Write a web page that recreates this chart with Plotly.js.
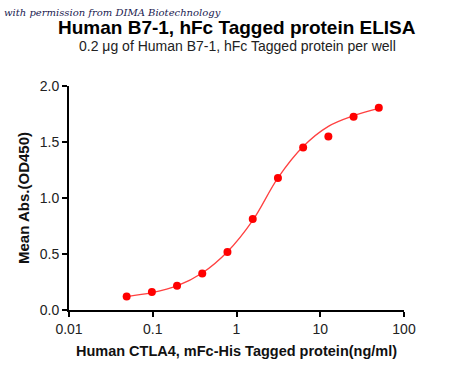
<!DOCTYPE html>
<html>
<head>
<meta charset="utf-8">
<script src="https://cdn.plot.ly/plotly-3.0.1.min.js"></script>
<style>html,body{margin:0;padding:0;background:#fff;}#chart{width:450px;height:376px;}</style>
</head>
<body>
<div id="chart"></div>
<script>
// Measured data (concentration in ng/ml, mean OD450)
const concentrations = [0.0488, 0.0977, 0.195, 0.39, 0.78, 1.5625, 3.125, 6.25, 12.5, 25, 50];
const meanAbs = [0.12, 0.16, 0.217, 0.327, 0.518, 0.812, 1.179, 1.452, 1.548, 1.726, 1.806];
// Fitted curve values
const curveX = [0.0488, 0.0977, 0.195, 0.39, 0.78, 1.5625, 3.125, 6.25, 12.5, 25, 50];
const curveY = [0.12, 0.155, 0.215, 0.33, 0.52, 0.80, 1.18, 1.46, 1.64, 1.735, 1.80];
const xTickVals = [0.01, 0.1, 1, 10, 100];
const xTickText = ['0.01', '0.1', '1', '10', '100'];
const yTickVals = [0, 0.5, 1.0, 1.5, 2.0];

const traces = [
  {x: curveX, y: curveY, mode: 'lines', line: {color: '#ff4040', width: 1.3, shape: 'spline', smoothing: 1}, hoverinfo: 'skip'},
  {x: concentrations, y: meanAbs, mode: 'markers', marker: {color: '#ff0000', size: 8}}
];

const fam = 'Liberation Sans, Arial, sans-serif';
const axisFont = {family: fam, size: 14, color: '#222'};
const layout = {
  width: 450, height: 376,
  margin: {l: 69, r: 46, t: 86, b: 66},
  paper_bgcolor: '#fff', plot_bgcolor: '#fff',
  showlegend: false,
  xaxis: {
    type: 'log', range: [-2, 2],
    tickvals: xTickVals, ticktext: xTickText,
    ticks: 'outside', ticklen: 5, tickwidth: 2, tickcolor: '#000',
    showline: true, linecolor: '#000', linewidth: 2,
    showgrid: false, zeroline: false,
    tickfont: axisFont,
    title: {text: '<b>Human CTLA4, mFc-His Tagged protein(ng/ml)</b>', font: {family: fam, size: 14.5, color: '#111'}, standoff: 10}
  },
  yaxis: {
    range: [0, 2], tickvals: yTickVals, tickformat: '.1f',
    ticks: 'outside', ticklen: 5, tickwidth: 2, tickcolor: '#000',
    showline: true, linecolor: '#000', linewidth: 2,
    showgrid: false, zeroline: false,
    tickfont: axisFont,
    title: {text: '<b>Mean Abs.(OD450)</b>', font: {family: fam, size: 15, color: '#111'}, standoff: 6}
  },
  annotations: [
    {text: '<b>Human B7-1, hFc Tagged protein ELISA</b>', xref: 'paper', yref: 'paper', x: (237 - 69) / 335, y: 1.263, xanchor: 'center', yanchor: 'middle', showarrow: false,
     font: {family: fam, size: 19, color: '#000'}},
    {text: '0.2 μg of Human B7-1, hFc Tagged protein per well', xref: 'paper', yref: 'paper', x: (237.5 - 69) / 335, y: 1.179, xanchor: 'center', yanchor: 'middle', showarrow: false,
     font: {family: fam, size: 14, color: '#222'}},
    {text: '<i>with permission from DIMA Biotechnology</i>', xref: 'paper', yref: 'paper', x: -0.2, y: 1.33, xanchor: 'left', yanchor: 'middle', showarrow: false,
     font: {family: 'DejaVu Serif, serif', size: 10, color: '#1a1a50'}}
  ]
};
Plotly.newPlot('chart', traces, layout, {displayModeBar: false, staticPlot: true});
</script>
</body>
</html>
